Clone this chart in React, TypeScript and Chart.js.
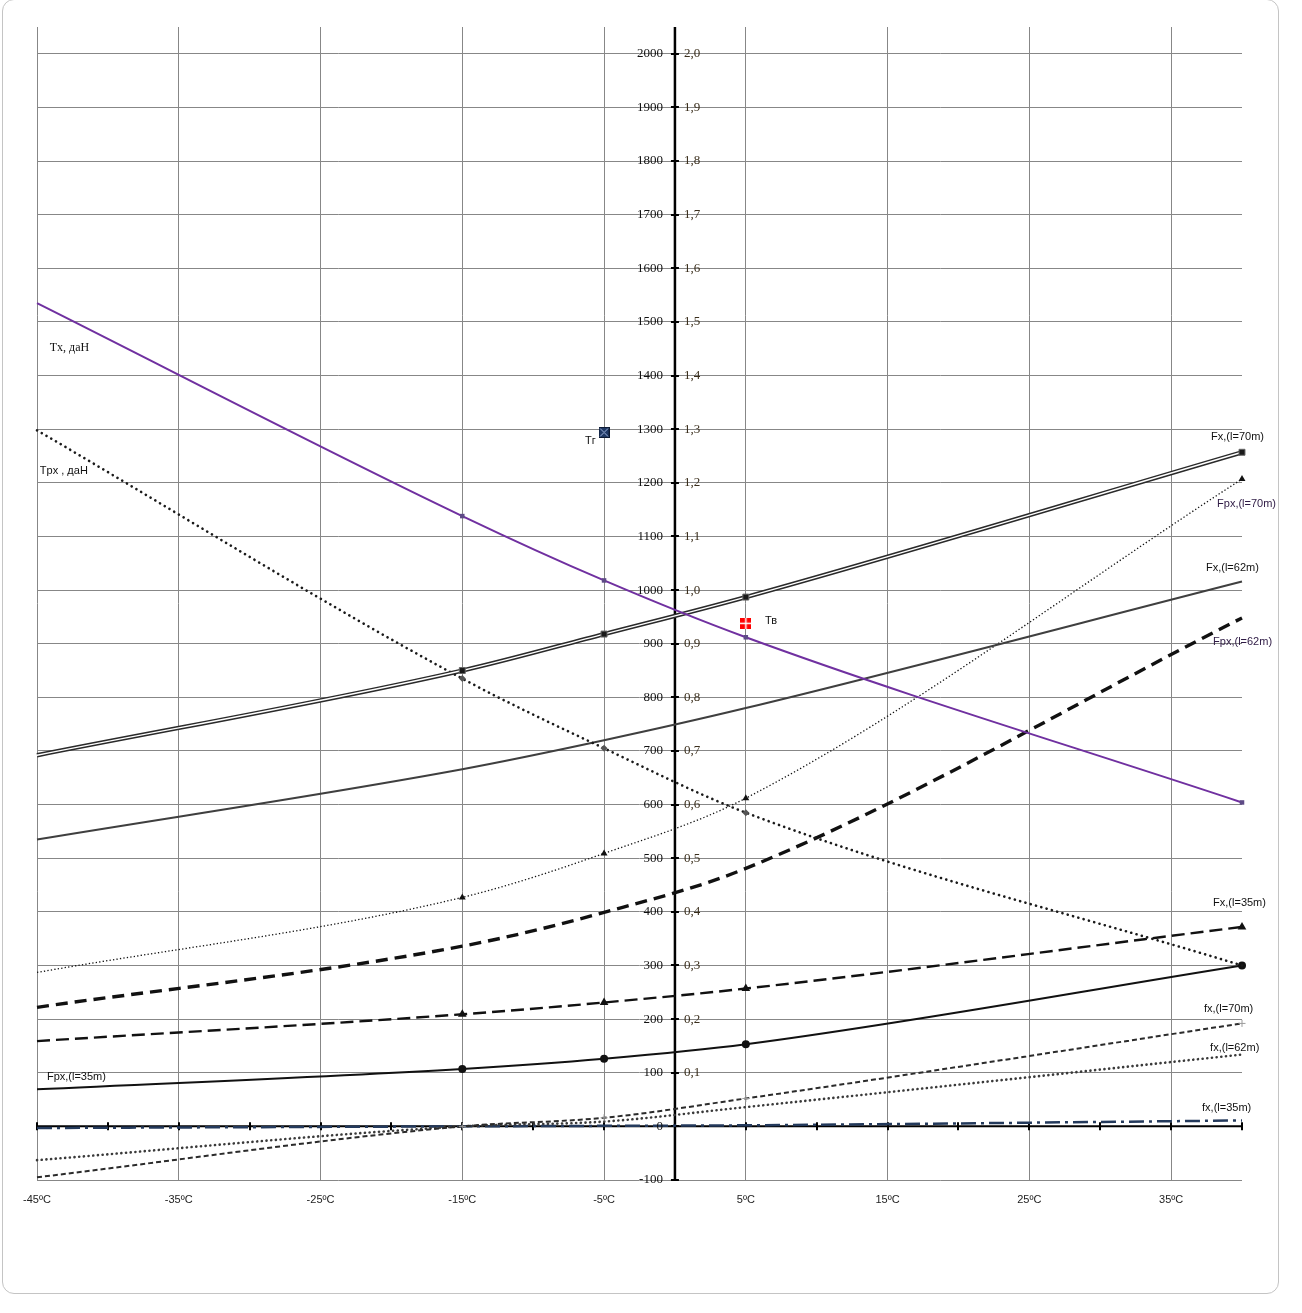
import React, { useEffect, useRef } from "react";
import { Chart, registerables } from "chart.js";

Chart.register(...registerables);

// ---- data ----
const temps = [-45, -15, -5, 5, 40];
const txValues = [1535, 1138, 1018, 912, 604];
const tpxValues = [1298, 835, 705, 585, 300];
const fx70Values = [692, 850, 918, 987, 1257];
const fx62Values = [535, 666, 720, 780, 1016];
const fpx70Values = [287, 427, 509, 612, 1207];
const fpx62Values = [222, 336, 399, 481, 948];
const fx35Values = [159, 209, 231, 257, 372];
const fpx35Values = [69, 107, 126, 153, 300];
const fxs70Values = [-95, 0, 16, 52, 192];
const fxs62Values = [-63, 0, 9, 36, 134];
const fxs35Values = [-3, 0, 1, 2, 11];

const trTemp = [-5];
const trValue = [1294];
const tvTemp = [5];
const tvValue = [938];

const xGridValues = [-45, -35, -25, -15, -5, 5, 15, 25, 35];
const xTickLabels = ["-45ºC", "-35ºC", "-25ºC", "-15ºC", "-5ºC", "5ºC", "15ºC", "25ºC", "35ºC"];
const xAxisTickValues = [-45, -40, -35, -30, -25, -20, -15, -10, -5, 0, 5, 10, 15, 20, 25, 30, 35, 40];
const yTickValues = [-100, 0, 100, 200, 300, 400, 500, 600, 700, 800, 900, 1000, 1100, 1200, 1300, 1400, 1500, 1600, 1700, 1800, 1900, 2000];
const yLeftLabels = ["-100", "0", "100", "200", "300", "400", "500", "600", "700", "800", "900", "1000", "1100", "1200", "1300", "1400", "1500", "1600", "1700", "1800", "1900", "2000"];
const yRightValues = [100, 200, 300, 400, 500, 600, 700, 800, 900, 1000, 1100, 1200, 1300, 1400, 1500, 1600, 1700, 1800, 1900, 2000];
const yRightLabels = ["0,1", "0,2", "0,3", "0,4", "0,5", "0,6", "0,7", "0,8", "0,9", "1,0", "1,1", "1,2", "1,3", "1,4", "1,5", "1,6", "1,7", "1,8", "1,9", "2,0"];

const annotationTexts = ["Tx, даН", "Tpx , даН", "Тг", "Тв", "Fx,(l=70m)", "Fpx,(l=70m)", "Fx,(l=62m)", "Fpx,(l=62m)", "Fx,(l=35m)", "fx,(l=70m)", "fx,(l=62m)", "fx,(l=35m)", "Fpx,(l=35m)"];
const annotationTemps = [-44.1, -44.8, -6.35, 6.35, 37.82, 38.24, 37.46, 37.96, 37.96, 37.32, 37.75, 37.18, -44.3];
const annotationValues = [1451, 1222, 1279, 942, 1285, 1160, 1041, 903, 416, 218, 147, 34, 93];

const SANS = '"Liberation Sans", Arial, sans-serif';
const SERIF = '"Liberation Serif", "Times New Roman", serif';

function pts(xs: number[], ys: number[]) {
  return xs.map((x, i) => ({ x, y: ys[i] }));
}

function radii(r: number, skipFirst = true) {
  return temps.map((_, i) => (skipFirst && i === 0 ? 0 : r));
}

function makeMarker(fill: string, stroke: string, kind: "x" | "plus", size: number) {
  const c = document.createElement("canvas");
  c.width = size;
  c.height = size;
  const g = c.getContext("2d")!;
  g.fillStyle = fill;
  g.fillRect(0, 0, size, size);
  g.strokeStyle = stroke;
  g.lineWidth = kind === "x" ? 1 : 1.5;
  g.beginPath();
  if (kind === "x") {
    g.moveTo(1.5, 1.5);
    g.lineTo(size - 1.5, size - 1.5);
    g.moveTo(size - 1.5, 1.5);
    g.lineTo(1.5, size - 1.5);
  } else {
    g.moveTo(size / 2, 0);
    g.lineTo(size / 2, size);
    g.moveTo(0, size / 2);
    g.lineTo(size, size / 2);
  }
  g.stroke();
  if (kind === "x") {
    g.strokeStyle = "#0d1a33";
    g.strokeRect(0.5, 0.5, size - 1, size - 1);
  }
  return c;
}

const overlayPlugin = {
  id: "overlay",
  beforeDatasetsDraw(chart: any) {
    const { ctx, chartArea } = chart;
    const x = chart.scales.x;
    const y = chart.scales.y;
    const x0 = x.getPixelForValue(0);
    const y0 = y.getPixelForValue(0);
    ctx.save();
    ctx.strokeStyle = "#000";
    ctx.lineWidth = 2;
    ctx.beginPath();
    ctx.moveTo(x.getPixelForValue(-45), y0);
    ctx.lineTo(x.getPixelForValue(40), y0);
    ctx.stroke();
    ctx.beginPath();
    for (const t of xAxisTickValues) {
      const px = Math.round(x.getPixelForValue(t));
      ctx.moveTo(px, y0 - 4);
      ctx.lineTo(px, y0 + 4);
    }
    ctx.stroke();
    ctx.lineWidth = 2.5;
    ctx.beginPath();
    ctx.moveTo(x0, chartArea.top);
    ctx.lineTo(x0, y.getPixelForValue(-100));
    ctx.stroke();
    ctx.lineWidth = 2;
    ctx.beginPath();
    for (const v of yTickValues) {
      const py = Math.round(y.getPixelForValue(v));
      ctx.moveTo(x0 - 4, py);
      ctx.lineTo(x0 + 4, py);
    }
    ctx.stroke();
    ctx.restore();
  },
  afterDatasetsDraw(chart: any) {
    const { ctx, chartArea } = chart;
    const x = chart.scales.x;
    const y = chart.scales.y;
    const x0 = x.getPixelForValue(0);
    ctx.save();
    ctx.textBaseline = "middle";
    ctx.font = `13px ${SERIF}`;
    ctx.fillStyle = "#111";
    ctx.textAlign = "right";
    yTickValues.forEach((v, i) => {
      ctx.fillText(yLeftLabels[i], x0 - 12, y.getPixelForValue(v));
    });
    ctx.fillStyle = "#3a2e1c";
    ctx.textAlign = "left";
    yRightValues.forEach((v, i) => {
      ctx.fillText(yRightLabels[i], x0 + 9, y.getPixelForValue(v));
    });
    ctx.font = `11px ${SANS}`;
    ctx.fillStyle = "#222";
    ctx.textAlign = "center";
    xGridValues.forEach((t, i) => {
      ctx.fillText(xTickLabels[i], x.getPixelForValue(t), chartArea.bottom + 20);
    });
    ctx.textAlign = "left";
    annotationTexts.forEach((txt, i) => {
      ctx.font = i === 0 ? `12px ${SERIF}` : `11px ${SANS}`;
      ctx.fillStyle = txt.startsWith("Fpx,(l=7") || txt.startsWith("Fpx,(l=62") ? "#2e1a44" : "#111";
      ctx.fillText(txt, x.getPixelForValue(annotationTemps[i]), y.getPixelForValue(annotationValues[i]));
    });
    ctx.restore();
  },
};

export default function App() {
  const canvasRef = useRef<HTMLCanvasElement | null>(null);

  useEffect(() => {
    if (!canvasRef.current) return;
    const trMarker = makeMarker("#1F3864", "#9fb4dc", "x", 11);
    const tvMarker = makeMarker("#FF0000", "#ffffff", "plus", 11);

    const line = (extra: any) => ({
      showLine: true,
      fill: false,
      clip: false,
      cubicInterpolationMode: "monotone",
      pointRadius: 0,
      pointBorderWidth: 0,
      ...extra,
    });

    const chart = new Chart(canvasRef.current, {
      type: "scatter",
      data: {
        datasets: [
          line({
            label: "Тг",
            data: pts(trTemp, trValue),
            showLine: false,
            pointStyle: trMarker,
            pointRadius: 6,
            order: 0,
          }),
          line({
            label: "Тв",
            data: pts(tvTemp, tvValue),
            showLine: false,
            pointStyle: tvMarker,
            pointRadius: 6,
            order: 0,
          }),
          line({
            label: "Tx",
            data: pts(temps, txValues),
            borderColor: "#7030A0",
            borderWidth: 2,
            pointStyle: "rect",
            pointRadius: radii(3.2),
            pointBackgroundColor: "#5e4a86",
            order: 1,
          }),
          line({
            label: "Fx70 inner",
            data: pts(temps, fx70Values),
            borderColor: "#ffffff",
            borderWidth: 1.4,
            pointStyle: "rect",
            pointRadius: radii(4.2),
            pointBackgroundColor: "#1a1a1a",
            pointBorderColor: "#666",
            pointBorderWidth: 1,
            order: 2,
          }),
          line({
            label: "Fx70 outer",
            data: pts(temps, fx70Values),
            borderColor: "#2a2a2a",
            borderWidth: 4.4,
            order: 3,
          }),
          line({
            label: "Tpx",
            data: pts(temps, tpxValues),
            borderColor: "#1a1a1a",
            borderWidth: 2.6,
            borderDash: [0.1, 5.4],
            borderCapStyle: "round",
            pointStyle: "rectRot",
            pointRadius: [0, 3.5, 3.5, 3.5, 0],
            pointBackgroundColor: "#555",
            order: 4,
          }),
          line({
            label: "Fx62",
            data: pts(temps, fx62Values),
            borderColor: "#3f3f3f",
            borderWidth: 2,
            order: 5,
          }),
          line({
            label: "Fpx70",
            data: pts(temps, fpx70Values),
            borderColor: "#111",
            borderWidth: 1.3,
            borderDash: [1.3, 2.2],
            pointStyle: "triangle",
            pointRadius: radii(4),
            pointBackgroundColor: "#111",
            order: 6,
          }),
          line({
            label: "Fpx62",
            data: pts(temps, fpx62Values),
            borderColor: "#111",
            borderWidth: 3.4,
            borderDash: [12, 7],
            order: 7,
          }),
          line({
            label: "Fx35",
            data: pts(temps, fx35Values),
            borderColor: "#111",
            borderWidth: 2.4,
            borderDash: [13, 6],
            pointStyle: "triangle",
            pointRadius: radii(5),
            pointBackgroundColor: "#111",
            order: 8,
          }),
          line({
            label: "Fpx35",
            data: pts(temps, fpx35Values),
            borderColor: "#111",
            borderWidth: 2,
            pointStyle: "circle",
            pointRadius: radii(4),
            pointBackgroundColor: "#111",
            order: 9,
          }),
          line({
            label: "fx70",
            data: pts(temps, fxs70Values),
            borderColor: "#2b2b2b",
            borderWidth: 2,
            borderDash: [5, 3],
            pointStyle: "cross",
            pointRadius: radii(3.5),
            pointBorderColor: "#9a9a9a",
            pointBorderWidth: 1,
            order: 10,
          }),
          line({
            label: "fx62",
            data: pts(temps, fxs62Values),
            borderColor: "#3a3a3a",
            borderWidth: 2.6,
            borderDash: [0.1, 4.6],
            borderCapStyle: "round",
            order: 11,
          }),
          line({
            label: "fx35",
            data: pts(temps, fxs35Values),
            borderColor: "#243a5c",
            borderWidth: 2.5,
            borderDash: [15, 5, 3, 5],
            order: 12,
          }),
        ],
      },
      options: {
        responsive: false,
        animation: false,
        layout: { padding: { left: 37, top: 27, right: 60, bottom: 133 } },
        plugins: {
          legend: { display: false },
          tooltip: { enabled: false },
        },
        scales: {
          x: {
            type: "linear",
            min: -45,
            max: 40,
            afterBuildTicks: (scale: any) => {
              scale.ticks = xGridValues.map((v) => ({ value: v }));
            },
            ticks: { display: false },
            grid: { color: "#878787", lineWidth: 1, drawTicks: false },
            border: { display: false },
          },
          y: {
            type: "linear",
            min: -100,
            max: 2050,
            afterBuildTicks: (scale: any) => {
              scale.ticks = yTickValues.map((v) => ({ value: v }));
            },
            ticks: { display: false },
            grid: { color: "#878787", lineWidth: 1, drawTicks: false },
            border: { display: false },
          },
        },
      } as any,
      plugins: [overlayPlugin],
    });
    return () => chart.destroy();
  }, []);

  return (
    <div style={{ position: "absolute", left: 0, top: 0, width: 1302, height: 1313, background: "#fff" }}>
      <div
        style={{
          position: "absolute",
          left: 2,
          top: -1,
          width: 1277,
          height: 1295,
          boxSizing: "border-box",
          border: "1px solid #c4c4c4",
          borderRadius: 12,
        }}
      />
      <canvas
        ref={canvasRef}
        width={1302}
        height={1313}
        style={{ position: "absolute", left: 0, top: 0, width: 1302, height: 1313 }}
      />
    </div>
  );
}
